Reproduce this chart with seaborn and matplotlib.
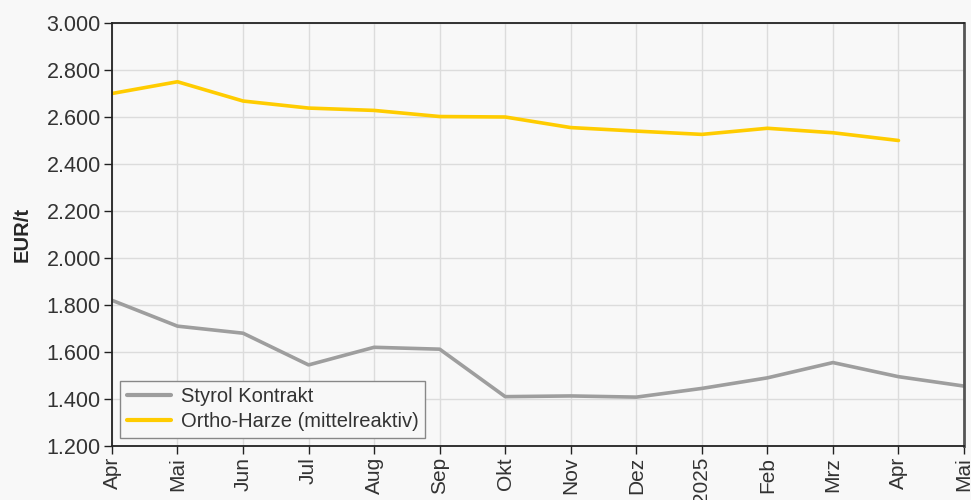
#!/usr/bin/env python3

import matplotlib.pyplot as plt
import matplotlib.ticker as ticker
import pandas as pd
import seaborn as sns

months = ["Apr", "Mai", "Jun", "Jul", "Aug", "Sep", "Okt",
          "Nov", "Dez", "2025", "Feb", "Mrz", "Apr", "Mai"]
styrol = [1820, 1710, 1680, 1545, 1620, 1612, 1410,
          1413, 1408, 1445, 1490, 1555, 1495, 1455]
ortho = [2700, 2750, 2668, 2638, 2628, 2602, 2600,
         2555, 2540, 2526, 2552, 2533, 2500]

STYROL = "Styrol Kontrakt"
ORTHO = "Ortho-Harze (mittelreaktiv)"

sns.set_style("whitegrid")
plt.rcParams["font.family"] = ["Liberation Sans", "DejaVu Sans"]
plt.rcParams["font.size"] = 14


def build_frame() -> pd.DataFrame:
    rows = []
    for i, v in enumerate(styrol):
        rows.append({"pos": i, "value": v, "series": STYROL})
    for i, v in enumerate(ortho):
        rows.append({"pos": i, "value": v, "series": ORTHO})
    return pd.DataFrame(rows)


def thousands(value, tick_number):
    # German thousands separator: 1.200
    return f"{int(value) // 1000}.{int(value) % 1000:03d}"


def main() -> None:
    df = build_frame()
    bg = "#f8f8f8"
    fig = plt.figure(figsize=(9.71, 5.0), dpi=100, facecolor=bg)
    ax = fig.add_axes([0.1153, 0.108, 0.8775, 0.846])
    ax.set_facecolor(bg)

    sns.lineplot(
        ax=ax,
        data=df,
        x="pos",
        y="value",
        hue="series",
        hue_order=[STYROL, ORTHO],
        palette={STYROL: "#9e9e9e", ORTHO: "#ffcc00"},
        linewidth=2.6,
    )

    ax.set_xlim(0, len(months) - 1)
    ax.set_ylim(1200, 3000)
    ax.set_xticks(range(len(months)))
    ax.set_xticklabels(months, rotation=90, color="#333333")
    ax.yaxis.set_major_locator(ticker.MultipleLocator(200))
    ax.yaxis.set_major_formatter(ticker.FuncFormatter(thousands))
    ax.tick_params(axis="y", labelsize=15.5, labelcolor="#333333",
                   left=True, length=6, width=1, color="#222222", pad=2)
    ax.tick_params(axis="x", labelsize=15, bottom=True, length=6,
                   width=1, color="#222222", pad=2)
    ax.grid(True, color="#dcdcdc", linewidth=1)
    for side in ["left", "bottom", "top"]:
        ax.spines[side].set_color("#222222")
        ax.spines[side].set_linewidth(1.3)
    ax.spines["right"].set_color("#555555")
    ax.spines["right"].set_linewidth(2)

    ax.set_xlabel("")
    ax.set_ylabel("EUR/t", fontweight="bold", fontsize=14.5, labelpad=11)

    leg = ax.legend(
        loc="lower left",
        bbox_to_anchor=(0.01, 0.02),
        frameon=True,
        fancybox=False,
        fontsize=14.5,
        handlelength=2.2,
        handletextpad=0.5,
        borderpad=0.3,
        labelspacing=0.3,
        borderaxespad=0,
    )
    leg.get_frame().set_edgecolor("#888888")
    leg.get_frame().set_facecolor(bg)
    leg.get_frame().set_alpha(1)
    for line in leg.get_lines():
        line.set_linewidth(3)
    for txt in leg.get_texts():
        txt.set_color("#333333")

    fig.savefig("out.png", dpi=100, facecolor=bg)


if __name__ == "__main__":
    main()
